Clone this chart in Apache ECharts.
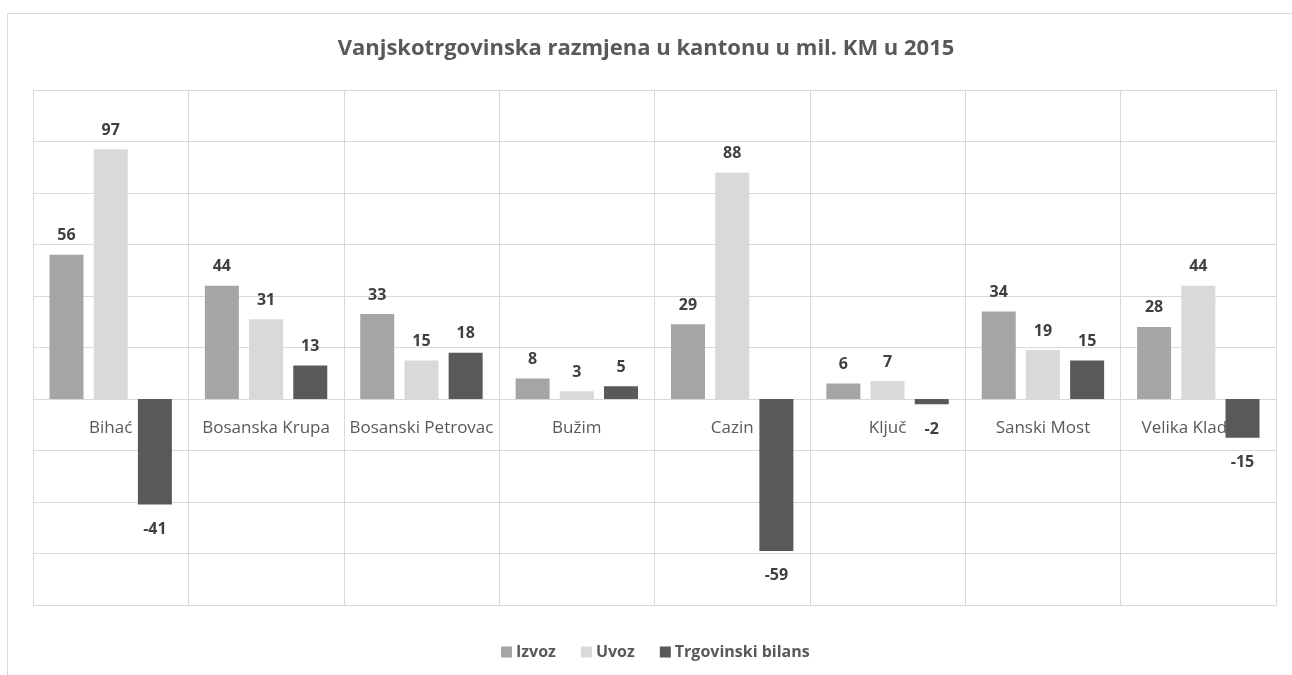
<!DOCTYPE html>
<html>
<head>
<meta charset="utf-8">
<script src="https://cdn.jsdelivr.net/npm/echarts@6/dist/echarts.min.js"></script>
<style>
  html, body { margin: 0; padding: 0; background: #fff; overflow: hidden; }
  #chart { width: 1292px; height: 675px; }
</style>
</head>
<body>
<div id="chart"></div>
<script>
  const cities = ['Bihać', 'Bosanska Krupa', 'Bosanski Petrovac', 'Bužim', 'Cazin', 'Ključ', 'Sanski Most', 'Velika Kladuša'];
  const izvoz = [56, 44, 33, 8, 29, 6, 34, 28];
  const uvoz = [97, 31, 15, 3, 88, 7, 19, 44];
  const bilans = [-41, 13, 18, 5, -59, -2, 15, -15];

  const font = '"Open Sans", sans-serif';
  const chart = echarts.init(document.getElementById('chart'));

  const dataLabel = {
    show: true,
    position: 'top',
    distance: 11,
    color: '#404040',
    fontFamily: font,
    fontWeight: 'bold',
    fontSize: 16
  };

  // negative values get the label under the bar end
  function withLabels(values) {
    return values.map(v => v < 0
      ? { value: v, label: { position: 'bottom', distance: 17 } }
      : v);
  }

  const option = {
    animation: false,
    backgroundColor: '#fff',
    graphic: [{
      type: 'rect',
      shape: { x: 7.5, y: 13.5, width: 1400, height: 800 },
      style: { fill: 'none', stroke: '#d9d9d9', lineWidth: 1 },
      z: -1
    }],
    title: {
      text: 'Vanjskotrgovinska razmjena u kantonu u mil. KM u 2015',
      left: 'center',
      top: 33,
      textStyle: { fontFamily: font, fontSize: 22, fontWeight: 'bold', color: '#595959' }
    },
    legend: {
      bottom: 10,
      left: 496,
      itemWidth: 11,
      itemHeight: 11,
      itemGap: 25,
      icon: 'rect',
      textStyle: { fontFamily: font, fontSize: 16, fontWeight: 'bold', color: '#595959', padding: [0, 0, 0, -1] },
      data: ['Izvoz', 'Uvoz', 'Trgovinski bilans']
    },
    grid: { left: 33, right: 16, top: 90, bottom: 70 },
    xAxis: {
      type: 'category',
      data: cities,
      // labels sit on the zero line (grid height 515, zero at 120/200 of it)
      offset: -206,
      axisTick: { show: false },
      axisLine: { onZero: false, lineStyle: { color: '#d9d9d9' } },
      axisLabel: { interval: 0, margin: 21, color: '#595959', fontFamily: font, fontSize: 17 },
      splitLine: { show: true, interval: 0, lineStyle: { color: '#d9d9d9' } }
    },
    yAxis: {
      type: 'value',
      min: -80,
      max: 120,
      interval: 20,
      axisLabel: { show: false },
      axisLine: { show: false },
      axisTick: { show: false },
      splitLine: { lineStyle: { color: '#d9d9d9' } }
    },
    series: [
      {
        name: 'Izvoz', type: 'bar', data: withLabels(izvoz),
        barWidth: 34, barGap: '30%',
        itemStyle: { color: '#a5a5a5' }, label: dataLabel
      },
      {
        name: 'Uvoz', type: 'bar', data: withLabels(uvoz),
        barWidth: 34, barGap: '30%',
        itemStyle: { color: '#d9d9d9' }, label: dataLabel
      },
      {
        name: 'Trgovinski bilans', type: 'bar', data: withLabels(bilans),
        barWidth: 34, barGap: '30%',
        itemStyle: { color: '#595959' }, label: dataLabel
      }
    ]
  };

  chart.setOption(option);
</script>
</body>
</html>
